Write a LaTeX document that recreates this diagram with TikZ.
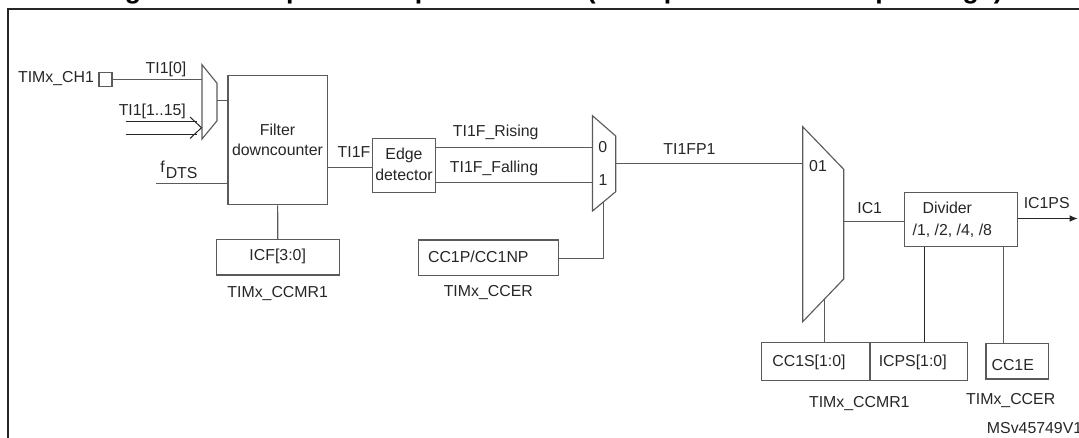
\documentclass[tikz,border=0pt]{standalone}
\usepackage{fontspec}
\setmainfont{Liberation Sans}
\usetikzlibrary{fit,arrows.meta}
\definecolor{linegray}{HTML}{5A5A5A}
\definecolor{textgray}{HTML}{262626}
\tikzset{
  px/.style={x=0.75pt,y=-0.75pt},
  box/.style={draw=linegray,line width=0.85pt,inner sep=0pt,fill=none},
  wire/.style={draw=linegray,line width=0.85pt},
  blackwire/.style={draw=black!85,line width=0.75pt},
  lbl/.style={text=textgray,font=\fontsize{11.9pt}{14pt}\selectfont,inner sep=0pt},
  muxshape/.style={draw=linegray,line width=0.85pt,line join=miter}
}
\begin{document}
\begin{tikzpicture}[px]
\useasboundingbox (0,0) rectangle (1079,437);
\clip (0,0) rectangle (1079,437);
% title, cut by the upper edge
\node[anchor=base west,inner sep=0pt,text=black,font=\fontsize{20pt}{24pt}\selectfont\bfseries] (title) at (101,-1.3) {Figure 123. Capture/compare channel (example: channel 1 input stage)};
% outer frame, running off the page
\coordinate (fTL) at (8,8.6);
\coordinate (fTR) at (1085,8.6);
\coordinate (fBL) at (8,445);
\draw[draw=black!85,line width=1.5pt] (fBL) -- (fTL) -- (fTR);
% boxes
\node[box,fit={(99,72.3)(112,86.7)}] (pad) {};
\node[box,fit={(228,75.7)(327.3,204.7)}] (filter) {};
\node[box,fit={(372.3,138.3)(435.7,192.7)}] (edge) {};
\node[box,fit={(216.3,239.7)(339.3,275)}] (icf) {};
\node[box,fit={(418.3,240)(558.3,275.3)}] (ccp) {};
\node[box,fit={(904.3,192.3)(1017.7,246.7)}] (divider) {};
\node[box,fit={(761.7,342.7)(870,380.3)}] (ccs) {};
\node[box,fit={(870,342.7)(967.7,380.3)}] (icps) {};
\node[box,fit={(986,343.3)(1048.3,379)}] (cce) {};
% multiplexers
\coordinate (ma1) at (202,64.7);
\coordinate (ma2) at (217,83.2);
\coordinate (ma3) at (217,120.8);
\coordinate (ma4) at (202,139);
\draw[muxshape] (ma1) -- (ma2) -- (ma3) -- (ma4) -- cycle;
\coordinate (mb1) at (592.5,115.7);
\coordinate (mb2) at (615.7,136);
\coordinate (mb3) at (615.7,191.7);
\coordinate (mb4) at (592.5,211);
\draw[muxshape] (mb1) -- (mb2) -- (mb3) -- (mb4) -- cycle;
\coordinate (mc1) at (802.7,126.7);
\coordinate (mc2) at (843.7,169.3);
\coordinate (mc3) at (843.7,279);
\coordinate (mc4) at (802.7,321.7);
\draw[muxshape] (mc1) -- (mc2) -- (mc3) -- (mc4) -- cycle;
% connection points
\coordinate (inA) at (202,79.5);
\coordinate (outA) at (217,100.5);
\coordinate (fdts) at (156,183.5);
\coordinate (tif) at (327.3,167.5);
\coordinate (rise) at (592.5,147.5);
\coordinate (fall) at (592.5,182.5);
\coordinate (outB) at (615.7,163.5);
\coordinate (inC) at (802.7,163.5);
\coordinate (selB) at (603.7,201.7);
\coordinate (ccpj) at (603.7,258.5);
\coordinate (selC) at (824.5,300);
\coordinate (ic1) at (843.7,221.5);
\coordinate (psout) at (1077.7,218.5);
\coordinate (icpsup) at (924.5,246.7);
\coordinate (cceup) at (1003.5,246.7);
% connectors
\draw[wire] (pad.east |- inA) -- (inA);
\draw[wire] (outA) -- (filter.west |- outA);
\draw[wire] (fdts) -- (filter.west |- fdts);
\draw[wire] (tif) -- (edge.west |- tif);
\draw[wire] (edge.east |- rise) -- (rise);
\draw[wire] (edge.east |- fall) -- (fall);
\draw[wire] (filter.south) -- (icf.north);
\draw[wire] (ccp.east |- ccpj) -- (ccpj) -- (selB);
\draw[wire] (outB) -- (inC);
\draw[wire] (selC) -- (selC |- ccs.north);
\draw[wire] (ic1) -- (divider.west |- ic1);
\draw[blackwire,-{Latex[length=6pt,width=5pt]}] (divider.east |- psout) -- (psout);
\draw[blackwire] (icpsup) -- (icpsup |- icps.north);
\draw[wire] (cceup) -- (cceup |- cce.north);
% bus input
\coordinate (busA) at (125.7,121.5);
\coordinate (busB) at (125.7,134.5);
\coordinate (busAe) at (197,121.5);
\coordinate (busBe) at (197,134.5);
\coordinate (tipU) at (190,117);
\coordinate (tip) at (201.5,127.7);
\coordinate (tipL) at (190,138.5);
\draw[blackwire] (busA) -- (busAe);
\draw[blackwire] (busB) -- (busBe);
\draw[blackwire] (tipU) -- (tip) -- (tipL);
% labels
\node[lbl] (lch) at (56,79) {TIMx\_CH1};
\node[lbl] (lti0) at (166,69.5) {TI1[0]};
\node[lbl] (lti1) at (152.3,111) {TI1[1..15]};
\node[lbl,anchor=base west] (lf) at (160,172.5) {f};
\node[lbl,anchor=base west] (ldts) at (165.5,178.5) {DTS};
\node[lbl] (lfilt) at (277.5,130) {Filter};
\node[lbl] (ldown) at (277.5,150) {downcounter};
\node[lbl] (ltif) at (354,152) {TI1F};
\node[lbl] (ledge) at (404,155.7) {Edge};
\node[lbl] (ldet) at (404,175) {detector};
\node[lbl] (lris) at (495.7,132) {TI1F\_Rising};
\node[lbl] (lfal) at (494,168) {TI1F\_Falling};
\node[lbl] (l0) at (602.7,147.5) {0};
\node[lbl] (l1) at (603,180) {1};
\node[lbl] (lfp) at (689.5,149) {TI1FP1};
\node[lbl] (l01) at (818,165.7) {01};
\node[lbl] (lic) at (869.7,207.7) {IC1};
\node[lbl] (ldiv) at (947.3,207.7) {Divider};
\node[lbl] (lrat) at (952.3,230.7) {/1, /2, /4, /8};
\node[lbl] (lps) at (1046.7,202.7) {IC1PS};
\node[lbl] (licf) at (277.7,256.7) {ICF[3:0]};
\node[lbl] (lreg1) at (277.7,293.3) {TIMx\_CCMR1};
\node[lbl] (lccp) at (478.3,257.3) {CC1P/CC1NP};
\node[lbl] (lreg2) at (488.3,292.3) {TIMx\_CCER};
\node[lbl] (lccs) at (809,362) {CC1S[1:0]};
\node[lbl] (licps) at (912.7,362) {ICPS[1:0]};
\node[lbl] (lcce) at (1012.7,365) {CC1E};
\node[lbl] (lreg3) at (859.3,403.3) {TIMx\_CCMR1};
\node[lbl] (lreg4) at (1010.7,401) {TIMx\_CCER};
\node[lbl,anchor=west] (lms) at (986.7,428.3) {MSv45749V1};
\end{tikzpicture}
\end{document}
